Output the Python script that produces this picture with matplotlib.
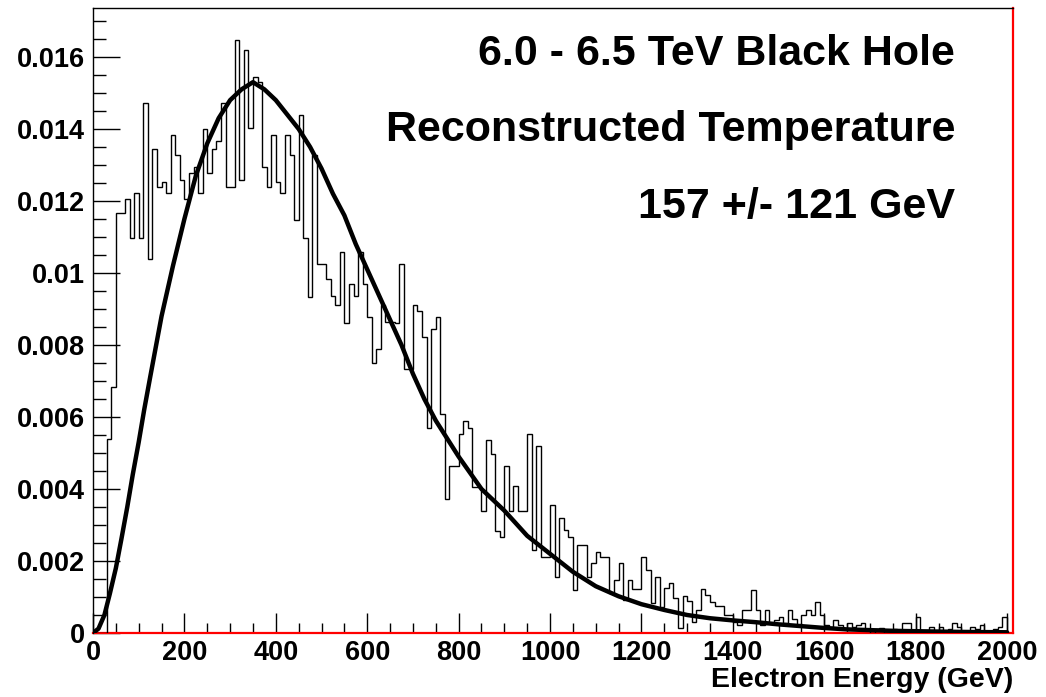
import numpy as np
import matplotlib
matplotlib.use("Agg")
import matplotlib.pyplot as plt
from matplotlib.ticker import MultipleLocator

# ---------------- data ----------------
bin_width = 10.0   # GeV
bin_start = 0.0
# normalised entries per 10 GeV bin, 0 .. 2000 GeV (200 bins)
counts = [
    0, 0, 0, 0.00538, 0.00683, 0.01166, 0.01166, 0.01205, 0.01096, 0.01221,
    0.01096, 0.01473, 0.0104, 0.01344, 0.01238, 0.01254, 0.01221, 0.01383, 0.01328, 0.01258,
    0.01206, 0.01277, 0.01294, 0.01221, 0.0140, 0.01277, 0.01344, 0.01367, 0.01471, 0.0124,
    0.0124, 0.01646, 0.01258, 0.0162, 0.01402, 0.01545, 0.0153, 0.01295, 0.0124, 0.01383,
    0.01254, 0.01221, 0.01383, 0.01328, 0.01147, 0.01439, 0.01096, 0.00934, 0.01328, 0.01025,
    0.01025, 0.00983, 0.00935, 0.00912, 0.01059, 0.00861, 0.0097, 0.00935, 0.01059, 0.0097,
    0.00878, 0.0075, 0.00789, 0.00912, 0.00863, 0.00863, 0.0086, 0.01024, 0.00733, 0.00733,
    0.0091, 0.00894, 0.00823, 0.0057, 0.00844, 0.00879, 0.00608, 0.00372, 0.00464, 0.00464,
    0.00552, 0.0059, 0.0057, 0.00406, 0.00406, 0.00339, 0.00536, 0.00497, 0.00284, 0.00266,
    0.00464, 0.00339, 0.00408, 0.00339, 0.00339, 0.00552, 0.0023, 0.0052, 0.00212, 0.00212,
    0.00356, 0.00155, 0.00319, 0.00286, 0.00268, 0.00119, 0.00244, 0.00244, 0.00156, 0.00194,
    0.00226, 0.00212, 0.00212, 0.0011, 0.00147, 0.00194, 0.00091, 0.00147, 0.00121, 0.00121,
    0.00212, 0.00175, 0.00082, 0.00155, 0.00073, 0.00124, 0.0014, 0.00096, 0.00013, 0.00103,
    0.0009, 0.0003, 0.00064, 0.00121, 0.00105, 0.00087, 0.00075, 0.00075, 0.0005, 0.0005,
    0.0003, 0.00022, 0.00064, 0.00064, 0.0012, 0.00064, 0.00022, 0.00064, 0.00027, 0.00036,
    0.00045, 0.00027, 0.00064, 0.0004, 0.00022, 0.0005, 0.00064, 0.0005, 0.00087, 0.0005,
    0.00022, 0.00018, 0.00036, 0.00022, 0.0001, 0.00027, 0.00018, 0.00022, 0.00027, 0.0001,
    0, 0.0001, 0.00013, 0, 0, 0.0001, 0, 0.00027, 0.00027, 0,
    0.00045, 0, 0, 0.00018, 0, 0.00018, 0, 0.0001, 0.00027, 0.00018,
    0, 0, 0.00018, 0.0001, 0.00022, 0, 0, 0.0001, 0.00018, 0.00045,
]

# fitted curve, read at these energies
fit_energy = [0, 12, 25, 37, 50, 62, 75, 87, 100, 112, 125, 150, 175, 200, 225, 250, 275,
              300, 325, 350, 375, 400, 425, 450, 475, 500, 525, 550, 575, 600, 625, 650,
              675, 700, 725, 750, 775, 800, 850, 900, 950, 1000, 1050, 1100, 1150, 1200,
              1250, 1300, 1350, 1400, 1450, 1500, 1550, 1600, 1650, 1700, 1750, 1800,
              1900, 2000]
fit_value = [0, 0.00012, 0.0005, 0.0011, 0.0018, 0.0026, 0.0035, 0.0044, 0.0053, 0.0062,
             0.0071, 0.0088, 0.0102, 0.0115, 0.0127, 0.0136, 0.0143, 0.0148, 0.0151,
             0.0153, 0.0151, 0.0148, 0.0144, 0.0140, 0.0135, 0.0129, 0.0122, 0.0116,
             0.0108, 0.0101, 0.0094, 0.0087, 0.0080, 0.0072, 0.0065, 0.0059, 0.0054,
             0.0049, 0.0040, 0.0034, 0.0027, 0.0022, 0.0017, 0.0013, 0.00102, 0.0008,
             0.00064, 0.0005, 0.00041, 0.00035, 0.0003, 0.00024, 0.00019, 0.00014,
             0.0001, 0.00008, 0.00006, 0.00005, 0.00003, 0.00002]

y_ticks = [0, 0.002, 0.004, 0.006, 0.008, 0.01, 0.012, 0.014, 0.016]
y_tick_labels = ["0", "0.002", "0.004", "0.006", "0.008", "0.01", "0.012", "0.014", "0.016"]
x_ticks = [0, 200, 400, 600, 800, 1000, 1200, 1400, 1600, 1800, 2000]

title_lines = ["6.0 - 6.5 TeV Black Hole", "Reconstructed Temperature", "157 +/- 121 GeV"]
x_label = "Electron Energy (GeV)"

# ---------------- figure ----------------
W, H = 1046, 697
fig = plt.figure(figsize=(W / 100, H / 100), dpi=100)
fig.patch.set_facecolor("white")
L, R, T, B = 93, 1013, 8, 633
ax = fig.add_axes([L / W, 1 - B / H, (R - L) / W, (B - T) / H])

font = "Liberation Sans"
edges = bin_start + bin_width * np.arange(len(counts) + 1)
ax.stairs(counts, edges, color="black", lw=1.0, baseline=0, zorder=3)
ax.plot(fit_energy, fit_value, color="black", lw=3.2, solid_capstyle="round",
        solid_joinstyle="round", zorder=4)

ax.set_xlim(0, 2013)
ax.set_ylim(0, 0.01736)

ax.set_xticks(x_ticks)
ax.set_xticklabels([str(v) for v in x_ticks])
ax.xaxis.set_minor_locator(MultipleLocator(50))
ax.set_yticks(y_ticks)
ax.set_yticklabels(y_tick_labels)
ax.yaxis.set_minor_locator(MultipleLocator(0.0005))

ax.tick_params(axis="x", which="major", direction="in", length=14.4, width=1.0,
               pad=5, labelsize=19.5, top=False)
ax.tick_params(axis="x", which="minor", direction="in", length=7.2, width=1.0, top=False)
ax.tick_params(axis="y", which="major", direction="in", length=19.5, width=1.0,
               pad=6, labelsize=19.5, right=False)
ax.tick_params(axis="y", which="minor", direction="in", length=9.5, width=1.0, right=False)
for lab in ax.get_xticklabels() + ax.get_yticklabels():
    lab.set_fontfamily(font)
    lab.set_fontweight("bold")

for side in ["left", "top"]:
    ax.spines[side].set_color("black")
    ax.spines[side].set_linewidth(1.0)
for side in ["right", "bottom"]:
    ax.spines[side].set_color("#ff0000")
    ax.spines[side].set_linewidth(1.6)
    ax.spines[side].set_zorder(2)

ys = [54, 130, 207]
for txt, yp in zip(title_lines, ys):
    fig.text(955 / W, 1 - yp / H, txt, ha="right", va="center", fontsize=31,
             fontweight="bold", family=font)

fig.text(1013 / W, 1 - 680 / H, x_label, ha="right", va="center", fontsize=20.5,
         fontweight="bold", family=font)

fig.savefig("out.png", dpi=100)
